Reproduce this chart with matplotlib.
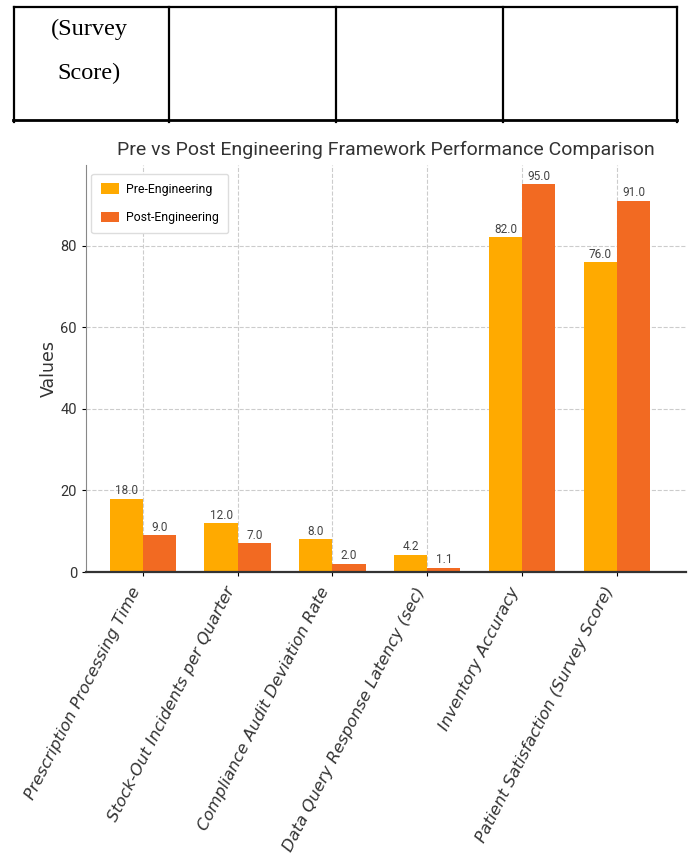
import matplotlib
matplotlib.use("Agg")
import matplotlib.pyplot as plt
from matplotlib.lines import Line2D
import numpy as np

# ---------------------- DATA ----------------------
categories = [
    "Prescription Processing Time",
    "Stock-Out Incidents per Quarter",
    "Compliance Audit Deviation Rate",
    "Data Query Response Latency (sec)",
    "Inventory Accuracy",
    "Patient Satisfaction (Survey Score)",
]
pre_values = [18.0, 12.0, 8.0, 4.2, 82.0, 76.0]
post_values = [9.0, 7.0, 2.0, 1.1, 95.0, 91.0]
series_names = ["Pre-Engineering", "Post-Engineering"]
y_ticks = [0, 20, 40, 60, 80]

pre_color = "#FFAA00"
post_color = "#F26A22"
narrow = ["Roboto", "DejaVu Sans"]

W, H = 688, 856
fig = plt.figure(figsize=(W / 100, H / 100), dpi=100)

# ---------------------- TABLE FRAGMENT ----------------------
def fx(px):
    return px / W

def fy(py):
    return 1 - py / H

for x in [14, 169, 336, 503, 677]:
    fig.add_artist(Line2D([fx(x), fx(x)], [fy(7), fy(122)], color="black", lw=1.6))
fig.add_artist(Line2D([fx(14), fx(677)], [fy(7), fy(7)], color="black", lw=1.6))
fig.add_artist(Line2D([fx(13), fx(677)], [fy(120), fy(120)], color="black", lw=2.0))
fig.text(fx(89), fy(29), "(Survey", ha="center", va="center",
         family="Liberation Serif", fontsize=17.5)
fig.text(fx(89), fy(73), "Score)", ha="center", va="center",
         family="Liberation Serif", fontsize=17.5)

# ---------------------- CHART ----------------------
ax = fig.add_axes([fx(86), fy(572), fx(686) - fx(86), fy(165) - fy(572)])
x = np.arange(len(categories))
width = 0.35
b1 = ax.bar(x - width / 2, pre_values, width, color=pre_color, label=series_names[0])
b2 = ax.bar(x + width / 2, post_values, width, color=post_color, label=series_names[1])

for bars in (b1, b2):
    ax.bar_label(bars, fmt="%.1f", padding=1, fontsize=8.5, color="#444444", family=narrow)

ax.set_xlim(-0.6, 5.73)
ax.set_ylim(0, 99.75)
ax.set_yticks(y_ticks)
ax.set_yticklabels([str(v) for v in y_ticks], family=narrow, fontsize=10.5, color="#333333")
ax.set_xticks(x)
ax.set_xticklabels(categories, rotation=63, ha="right", fontsize=11.8,
                   style="italic", color="#333333")
ax.tick_params(axis="x", pad=6)
ax.set_ylabel("Values", fontsize=12.5, color="#333333")
ax.yaxis.set_label_coords(-0.047, 0.5)
ax.set_title("Pre vs Post Engineering Framework Performance Comparison",
             family=narrow, fontsize=14, color="#333333", pad=7)

ax.grid(True, linestyle="--", color="#CCCCCC", linewidth=0.8)
ax.set_axisbelow(True)
for side in ["top", "right"]:
    ax.spines[side].set_visible(False)
ax.spines["bottom"].set_linewidth(1.6)
ax.spines["bottom"].set_color("#333333")
ax.spines["left"].set_color("#888888")
ax.tick_params(axis="both", length=3)

ax.legend(loc="upper left", prop={"family": narrow, "size": 8.8},
          handlelength=1.5, handleheight=0.9, labelspacing=1.25,
          handletextpad=0.6, borderaxespad=0.2, borderpad=0.75,
          framealpha=1, edgecolor="#DDDDDD",
          bbox_to_anchor=(0.005, 0.985))

fig.savefig("out.png", dpi=100)
